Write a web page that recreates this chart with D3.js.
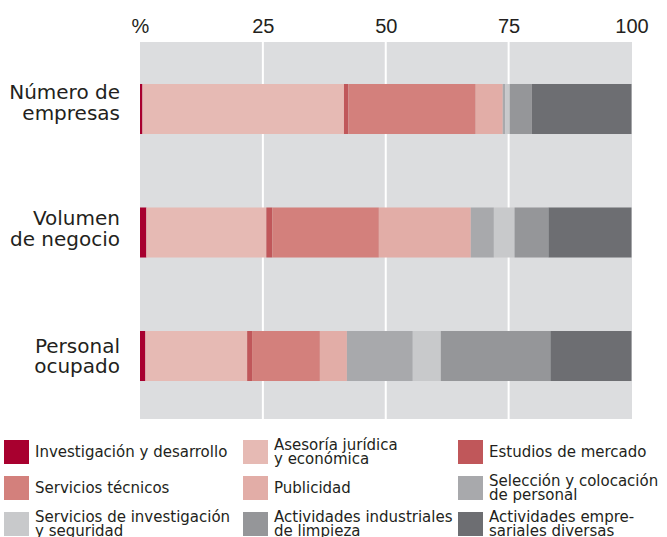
<!DOCTYPE html>
<html>
  <head>
    <meta charset="utf-8">
    <script src="https://d3js.org/d3.v7.min.js"></script>
    <style type="text/css">
      body { margin: 0; background: #fff; }
      svg { display: block; }
      .rowLabel { font-family: "DejaVu Sans", sans-serif; font-size: 20px; fill: #231f20; }
      .legendLabel { font-family: "DejaVu Sans", sans-serif; font-size: 15px; fill: #231f20; }
      .axis text { font-family: "Liberation Sans", Arial, sans-serif; font-size: 20px; fill: #231f20; }
    </style>
  </head>
  <body>
    <div id="chart"></div>

  <script type="text/javascript">

    // rows of the chart (top to bottom)
    var rows = ["empresas", "negocio", "personal"];
    var rowLabels = [["Número de", "empresas"], ["Volumen", "de negocio"], ["Personal", "ocupado"]];

    // sectors, in stacking order
    var sectors = ["id", "asesoria", "estudios", "tecnicos", "publicidad", "seleccion", "seguridad", "limpieza", "diversas"];
    var sectorLabels = [
      ["Investigación y desarrollo"],
      ["Asesoría jurídica", "y económica"],
      ["Estudios de mercado"],
      ["Servicios técnicos"],
      ["Publicidad"],
      ["Selección y colocación", "de personal"],
      ["Servicios de investigación", "y seguridad"],
      ["Actividades industriales", "de limpieza"],
      ["Actividades empre-", "sariales diversas"]
    ];
    var sectorColors = ["#a8002f", "#e6bab4", "#c0575a", "#d3807c", "#e2ada7", "#a8a9ac", "#c8c9cb", "#959699", "#6d6e72"];

    // share (%) of each sector, one array per row
    var empresas = [0.5, 41.0, 0.9, 25.9, 5.5, 0.5, 0.9, 4.5, 20.3];
    var negocio  = [1.3, 24.4, 1.2, 21.7, 18.7, 4.7, 4.2, 6.9, 16.9];
    var personal = [1.1, 20.7, 1.0, 13.8, 5.5, 13.4, 5.7, 22.3, 16.5];

    var tickValues = [0, 25, 50, 75, 100];
    var tickLabels = ["%", "25", "50", "75", "100"];

    var width = 667;
    var height = 537;
    var plotTop = 42, plotBottom = 419;

    var table = [empresas, negocio, personal].map(function(vals, i) {
      var o = { row: rows[i] };
      sectors.forEach(function(s, j) { o[s] = vals[j]; });
      return o;
    });

    var svg = d3.select("#chart")
      .append("svg")
        .attr("width", width)
        .attr("height", height);

    var x = d3.scaleLinear()
        .domain([0, 100])
        .range([140, 631.5]);

    var y = d3.scaleBand()
        .domain(rows)
        .range([plotTop, 423])
        .paddingInner(0.595)
        .paddingOuter(0.34);

    var color = d3.scaleOrdinal()
        .domain(sectors)
        .range(sectorColors);

    // grey plot background
    svg.append("rect")
        .attr("x", x(0))
        .attr("y", plotTop)
        .attr("width", x(100) - x(0) + 0.5)
        .attr("height", plotBottom - plotTop)
        .attr("fill", "#dcdddf");

    // white gridlines
    svg.append("g")
      .selectAll("line")
      .data([25, 50, 75])
      .enter()
      .append("line")
        .attr("x1", function(d) { return x(d); })
        .attr("x2", function(d) { return x(d); })
        .attr("y1", plotTop)
        .attr("y2", plotBottom)
        .attr("stroke", "#fff")
        .attr("stroke-width", 2);

    // stacked bars
    var series = d3.stack().keys(sectors)(table);

    svg.append("g")
      .selectAll("g")
      .data(series)
      .enter()
      .append("g")
        .attr("fill", function(d) { return color(d.key); })
      .selectAll("rect")
      .data(function(d) { return d; })
      .enter()
      .append("rect")
        .attr("x", function(d) { return x(d[0]); })
        .attr("width", function(d) { return x(d[1]) - x(d[0]); })
        .attr("y", function(d) { return y(d.data.row); })
        .attr("height", y.bandwidth());

    // top axis
    var axis = svg.append("g")
        .attr("class", "axis")
        .attr("transform", "translate(0,35.5)")
        .call(d3.axisTop(x)
          .tickValues(tickValues)
          .tickSize(0)
          .tickPadding(3)
          .tickFormat(function(d, i) { return tickLabels[i]; }));
    axis.select(".domain").remove();

    // row labels
    var labelShift = [-6, -4, 0];
    svg.append("g")
      .selectAll("text")
      .data(rows)
      .enter()
      .append("text")
        .attr("class", "rowLabel")
        .attr("text-anchor", "end")
        .attr("x", 120)
        .attr("y", function(d, i) { return y(d) + y.bandwidth() / 2 + labelShift[i]; })
      .selectAll("tspan")
      .data(function(d, i) { return rowLabels[i]; })
      .enter()
      .append("tspan")
        .attr("x", 120)
        .attr("dy", function(d, i) { return i === 0 ? "-3.5" : "20.5"; })
        .text(function(d) { return d; });

    // legend
    var legendCols = [4, 243, 458];
    var legendTop = 440, legendStep = 36;

    var legend = svg.append("g")
      .selectAll("g")
      .data(sectors)
      .enter()
      .append("g")
        .attr("transform", function(d, i) {
          return "translate(" + legendCols[i % 3] + "," + (legendTop + Math.floor(i / 3) * legendStep) + ")";
        });

    legend.append("rect")
        .attr("width", 25)
        .attr("height", 24)
        .attr("fill", function(d) { return color(d); });

    legend.append("text")
        .attr("class", "legendLabel")
        .selectAll("tspan")
        .data(function(d, i) {
          var lines = sectorLabels[i];
          return lines.map(function(l, k) {
            return { text: l, y: lines.length === 1 ? 17 : (k === 0 ? 9.5 : 23.5) };
          });
        })
        .enter()
        .append("tspan")
          .attr("x", 31)
          .attr("y", function(d) { return d.y; })
          .text(function(d) { return d.text; });

  </script>
  </body>
</html>
